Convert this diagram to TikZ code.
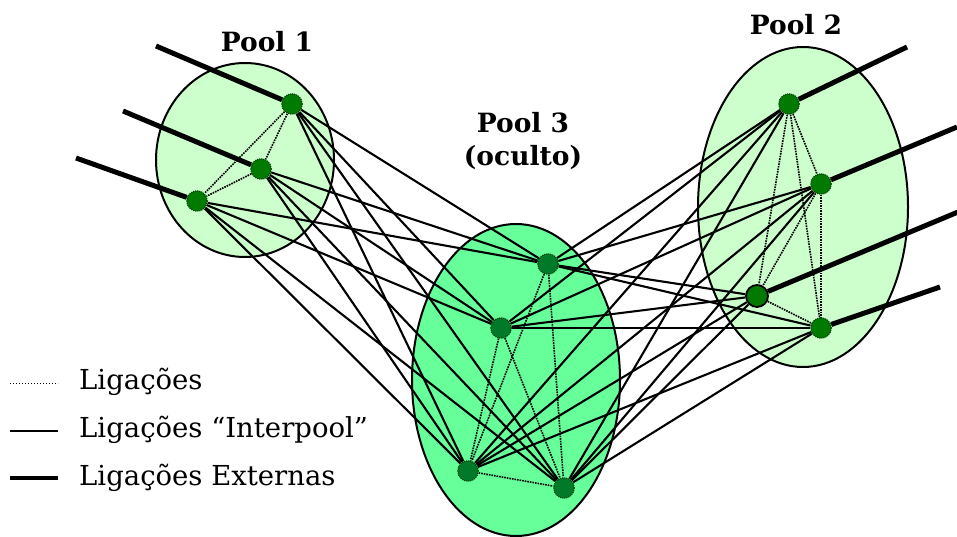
\documentclass[tikz,border=0pt]{standalone}
\usepackage{fontspec}
\setmainfont{DejaVu Serif}
\pgfdeclarelayer{pools}
\pgfdeclarelayer{edges}
\pgfsetlayers{pools,edges,main}
\definecolor{poollight}{RGB}{204,255,204}
\definecolor{poolhidden}{RGB}{102,255,153}
\definecolor{nodegreen}{RGB}{0,122,0}
\definecolor{nodegreenC}{RGB}{0,122,40}
\definecolor{nodeedge}{RGB}{0,60,0}
\tikzset{
  pool/.style={draw=black, line width=2pt},
  unit/.style={circle, fill=nodegreen, draw=nodeedge, densely dotted, line width=1.1pt, minimum size=20.5pt, inner sep=0pt},
  unitC/.style={unit, fill=nodegreenC},
  bigunit/.style={circle, fill=nodegreen, draw=black, solid, line width=1.8pt, minimum size=22pt, inner sep=0pt},
  intra/.style={densely dotted, line width=1.6pt, black},
  inter/.style={line width=2.1pt, black},
  extern/.style={line width=5pt, black},
  title/.style={font=\bfseries\fontsize{26.5}{30}\selectfont, inner sep=0pt},
  legendtext/.style={font=\fontsize{27.5}{30}\selectfont, anchor=base west, inner sep=0pt}
}
\begin{document}
\begin{tikzpicture}[x=1pt,y=-1pt]
\useasboundingbox (0,0) rectangle (957,537);
% pools
\begin{pgfonlayer}{pools}
\draw[pool, fill=poollight] (245,160) ellipse [x radius=89, y radius=97];
\draw[pool, fill=poollight] (803,207) ellipse [x radius=105, y radius=160];
\draw[pool, fill=poolhidden] (516,380) ellipse [x radius=104, y radius=156];
\end{pgfonlayer}
% titles
\node[title, anchor=base] (t1) at (267,52) {Pool 1};
\node[title, anchor=base] (t2) at (796,35) {Pool 2};
\node[title, anchor=base] (t3) at (523,133) {Pool 3};
\node[title, anchor=base] (t3b) at (523,166) {(oculto)};
% units
\node[unit] (A1) at (292,104) {};
\node[unit] (A2) at (261,169) {};
\node[unit] (A3) at (197,201) {};
\node[unit] (B1) at (789,104) {};
\node[unit] (B2) at (821,184) {};
\node[bigunit] (B3) at (757,296) {};
\node[unit] (B4) at (821,328) {};
\node[unitC] (C1) at (548,264) {};
\node[unitC] (C2) at (501,328) {};
\node[unitC] (C3) at (468,471) {};
\node[unitC] (C4) at (564,488) {};
% external ends
\coordinate (eA1) at (156,46);
\coordinate (eA2) at (123,111);
\coordinate (eA3) at (76,158);
\coordinate (eB1) at (907,47);
\coordinate (eB2) at (957,127);
\coordinate (eB3) at (958,212);
\coordinate (eB4) at (940,287);
\begin{pgfonlayer}{edges}
% intra-pool
\draw[intra] (A1) -- (A2);
\draw[intra] (A1) -- (A3);
\draw[intra] (A2) -- (A3);
\foreach \a/\b in {B1/B2,B1/B3,B1/B4,B2/B3,B2/B4,B3/B4}
  \draw[intra] (\a) -- (\b);
\foreach \a/\b in {C1/C3,C1/C4,C2/C3,C2/C4,C3/C4}
  \draw[intra] (\a) -- (\b);
% inter-pool
\foreach \a in {A1,A2,A3}
  \foreach \c in {C1,C2,C3,C4}
    \draw[inter] (\a) -- (\c);
\foreach \c in {C1,C2,C3,C4}
  \foreach \b in {B1,B2,B3,B4}
    \draw[inter] (\c) -- (\b);
% external
\foreach \n in {A1,A2,A3,B1,B2,B3,B4}
  \draw[extern] (e\n) -- (\n);
\end{pgfonlayer}
% legend
\coordinate (l1a) at (10,383); \coordinate (l1b) at (58,383);
\coordinate (l2a) at (10,431); \coordinate (l2b) at (58,431);
\coordinate (l3a) at (10,478); \coordinate (l3b) at (58,478);
\draw[dotted, line width=1pt] (l1a) -- (l1b);
\draw[line width=1.8pt] (l2a) -- (l2b);
\draw[line width=4pt] (l3a) -- (l3b);
\node[legendtext] (lt1) at (79,389) {Ligações};
\node[legendtext] (lt2) at (79,437) {Ligações “Interpool”};
\node[legendtext] (lt3) at (79,485) {Ligações Externas};
\end{tikzpicture}
\end{document}
